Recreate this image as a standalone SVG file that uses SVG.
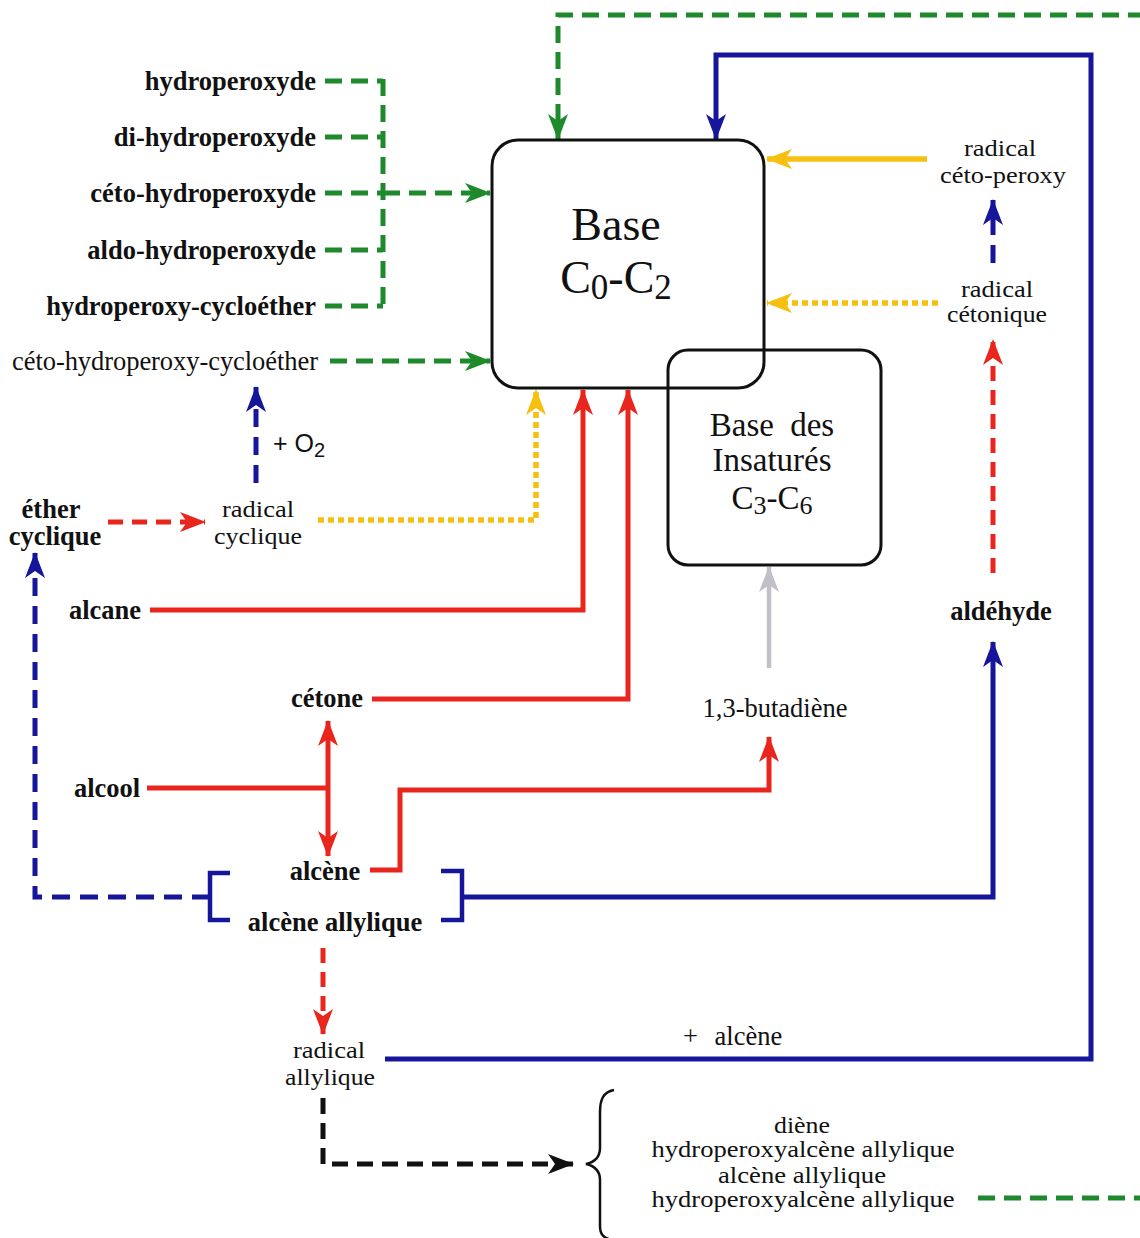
<svg xmlns="http://www.w3.org/2000/svg" width="1140" height="1238" viewBox="0 0 1140 1238">
<style>
text{font-family:"Liberation Serif","Times New Roman",serif;fill:#111;}
.b{font-weight:bold;font-size:26.5px;}
.n{font-size:26.5px;}
.t{font-size:24px;}
.big{font-size:46px;}
.mid{font-size:33px;}
.c{text-anchor:middle;}
.e{text-anchor:end;}
.box{fill:none;stroke:#111;stroke-width:3;}
.g{fill:none;stroke:#1e8a2c;stroke-width:5;stroke-dasharray:17 9;}
.bl{fill:none;stroke:#16169a;stroke-width:5;}
.bld{fill:none;stroke:#16169a;stroke-width:5;stroke-dasharray:18 10;}
.r{fill:none;stroke:#e8261e;stroke-width:5;}
.rd{fill:none;stroke:#e8261e;stroke-width:5;stroke-dasharray:15 9;}
.y{fill:none;stroke:#f5c010;stroke-width:5.5;}
.yd{fill:none;stroke:#f5c010;stroke-width:5.5;stroke-dasharray:6 4;}
.k{fill:none;stroke:#111;stroke-width:5;stroke-dasharray:16 9;}
.gr{fill:none;stroke:#c2bfc9;stroke-width:4.5;}
</style>
<defs>
<marker id="ag" viewBox="0 0 26 20" refX="25" refY="10" markerWidth="26" markerHeight="20" markerUnits="userSpaceOnUse" orient="auto"><path d="M0,0 L26,10 L0,20 L7,10 z" fill="#1e8a2c"/></marker>
<marker id="ab" viewBox="0 0 26 20" refX="25" refY="10" markerWidth="26" markerHeight="20" markerUnits="userSpaceOnUse" orient="auto"><path d="M0,0 L26,10 L0,20 L7,10 z" fill="#16169a"/></marker>
<marker id="ar" viewBox="0 0 26 20" refX="25" refY="10" markerWidth="26" markerHeight="20" markerUnits="userSpaceOnUse" orient="auto"><path d="M0,0 L26,10 L0,20 L7,10 z" fill="#e8261e"/></marker>
<marker id="ars" viewBox="0 0 26 20" refX="25" refY="10" markerWidth="26" markerHeight="20" markerUnits="userSpaceOnUse" orient="auto-start-reverse"><path d="M0,0 L26,10 L0,20 L7,10 z" fill="#e8261e"/></marker>
<marker id="ay" viewBox="0 0 26 20" refX="25" refY="10" markerWidth="26" markerHeight="20" markerUnits="userSpaceOnUse" orient="auto"><path d="M0,0 L26,10 L0,20 L7,10 z" fill="#f5c010"/></marker>
<marker id="ak" viewBox="0 0 26 20" refX="25" refY="10" markerWidth="26" markerHeight="20" markerUnits="userSpaceOnUse" orient="auto"><path d="M0,0 L26,10 L0,20 L7,10 z" fill="#111"/></marker>
<marker id="agr" viewBox="0 0 26 20" refX="25" refY="10" markerWidth="26" markerHeight="20" markerUnits="userSpaceOnUse" orient="auto"><path d="M0,0 L26,10 L0,20 L7,10 z" fill="#c2bfc9"/></marker>
</defs>
<rect width="1140" height="1238" fill="#fff"/>

<g id="connectors">
  <path class="g" d="M325,81 H383"/>
  <path class="g" d="M325,137 H383"/>
  <path class="g" d="M325,193 H383"/>
  <path class="g" d="M325,250 H383"/>
  <path class="g" d="M325,306 H383"/>
  <path class="g" d="M383,79 V308"/>
  <path class="g" d="M383,193 H490" marker-end="url(#ag)"/>
  <path class="g" d="M330,361 H490" marker-end="url(#ag)"/>
  <path class="g" d="M978,1198 H1146 V15 H558 V139" marker-end="url(#ag)"/>
  <path class="bl" d="M385,1059 H1091 V55 H716 V139" marker-end="url(#ab)"/>
  <path class="y" d="M927,159 H767" marker-end="url(#ay)"/>
  <path class="bld" d="M993,263 V200" marker-end="url(#ab)"/>
  <path class="yd" d="M938,303 H767" marker-end="url(#ay)"/>
  <path class="rd" d="M993,573 V340" marker-end="url(#ar)"/>
  <path class="bl" d="M462,897 H993 V642" marker-end="url(#ab)"/>
  <path class="r" d="M150,610 H583 V390" marker-end="url(#ar)"/>
  <path class="r" d="M372,699 H628 V390" marker-end="url(#ar)"/>
  <path class="yd" d="M318,520 H536 V390" marker-end="url(#ay)"/>
  <path class="rd" d="M108,522 H205" marker-end="url(#ar)"/>
  <path class="bld" d="M256,483 V387" marker-end="url(#ab)"/>
  <path class="bld" d="M210,897 H35 V553" marker-end="url(#ab)"/>
  <path class="r" d="M147,788 H328"/>
  <path class="r" d="M328,721 V856" marker-start="url(#ars)" marker-end="url(#ar)"/>
  <path class="r" d="M370,870 H400 V790 H769 V737" marker-end="url(#ar)"/>
  <path class="gr" d="M769,668 V567" marker-end="url(#agr)"/>
  <path class="rd" d="M323,948 V1034" marker-end="url(#ar)"/>
  <path class="k" d="M323,1098 V1164 H573" marker-end="url(#ak)"/>
</g>

<g id="base-c0-c2">
  <rect class="box" x="492" y="140" width="272" height="248" rx="26"/>
  <text class="big c" x="616" y="240">Base</text>
  <text class="big c" x="616" y="293">C<tspan font-size="35" dy="6">0</tspan><tspan dy="-6">-C</tspan><tspan font-size="35" dy="6">2</tspan></text>
</g>
<g id="base-insatures">
  <rect class="box" x="668" y="350" width="213" height="215" rx="20"/>
  <text class="mid c" x="772" y="436" word-spacing="8">Base des</text>
  <text class="mid c" x="772" y="471">Insaturés</text>
  <text class="mid c" x="772" y="509">C<tspan font-size="26" dy="5">3</tspan><tspan dy="-5">-C</tspan><tspan font-size="26" dy="5">6</tspan></text>
</g>

<g id="hydroperoxyde"><text class="b e" x="316" y="90">hydroperoxyde</text></g>
<g id="di-hydroperoxyde"><text class="b e" x="316" y="146">di-hydroperoxyde</text></g>
<g id="ceto-hydroperoxyde"><text class="b e" x="316" y="202">céto-hydroperoxyde</text></g>
<g id="aldo-hydroperoxyde"><text class="b e" x="316" y="259">aldo-hydroperoxyde</text></g>
<g id="hydroperoxy-cycloether"><text class="b e" x="316" y="315">hydroperoxy-cycloéther</text></g>
<g id="ceto-hydroperoxy-cycloether"><text class="n e" x="318" y="370" textLength="306">céto-hydroperoxy-cycloéther</text></g>

<g id="radical-ceto-peroxy">
  <text class="t c" x="1000" y="156" textLength="72" lengthAdjust="spacingAndGlyphs">radical</text>
  <text class="t c" x="1003" y="183" textLength="126" lengthAdjust="spacingAndGlyphs">céto-peroxy</text>
</g>
<g id="radical-cetonique">
  <text class="t c" x="997" y="297" textLength="72" lengthAdjust="spacingAndGlyphs">radical</text>
  <text class="t c" x="997" y="322" textLength="100" lengthAdjust="spacingAndGlyphs">cétonique</text>
</g>
<g id="aldehyde"><text class="b c" x="1001" y="620">aldéhyde</text></g>

<g id="ether-cyclique">
  <text class="b c" x="51" y="518">éther</text>
  <text class="b c" x="55" y="545">cyclique</text>
</g>
<g id="radical-cyclique">
  <text class="t c" x="258" y="517" textLength="72" lengthAdjust="spacingAndGlyphs">radical</text>
  <text class="t c" x="258" y="544" textLength="88" lengthAdjust="spacingAndGlyphs">cyclique</text>
</g>
<g id="plus-o2"><text x="273" y="452" style="font-family:'Liberation Sans',Arial,sans-serif;font-size:25px">+ O<tspan font-size="20" dy="5">2</tspan></text></g>

<g id="alcane"><text class="b c" x="105" y="619">alcane</text></g>
<g id="cetone"><text class="b c" x="327" y="707">cétone</text></g>
<g id="alcool"><text class="b c" x="107" y="797">alcool</text></g>
<g id="butadiene"><text class="n c" x="775" y="717">1,3-butadiène</text></g>

<g id="alcene-group">
  <path fill="none" stroke="#16169a" stroke-width="4.5" d="M230,873 H210 V920 H230"/>
  <path fill="none" stroke="#16169a" stroke-width="4.5" d="M441,871 H462 V920 H441"/>
  <text class="b c" x="325" y="880">alcène</text>
  <text class="b c" x="335" y="931">alcène allylique</text>
</g>

<g id="radical-allylique">
  <text class="t c" x="329" y="1058" textLength="72" lengthAdjust="spacingAndGlyphs">radical</text>
  <text class="t c" x="330" y="1085" textLength="90" lengthAdjust="spacingAndGlyphs">allylique</text>
</g>
<g id="plus-alcene"><text class="n" x="683" y="1045" word-spacing="10">+ alcène</text></g>

<g id="produits">
  <path fill="none" stroke="#111" stroke-width="2.5" d="M614,1090 C603,1092 600,1100 600,1112 V1148 C600,1157 595,1162 586,1164 C595,1166 600,1171 600,1180 V1226 C600,1234 603,1238 612,1240"/>
  <text class="t c" x="802" y="1133" textLength="56" lengthAdjust="spacingAndGlyphs">diène</text>
  <text class="t c" x="803" y="1157" textLength="303" lengthAdjust="spacingAndGlyphs">hydroperoxyalcène allylique</text>
  <text class="t c" x="802" y="1183" textLength="168" lengthAdjust="spacingAndGlyphs">alcène allylique</text>
  <text class="t c" x="803" y="1207" textLength="303" lengthAdjust="spacingAndGlyphs">hydroperoxyalcène allylique</text>
</g>
</svg>
